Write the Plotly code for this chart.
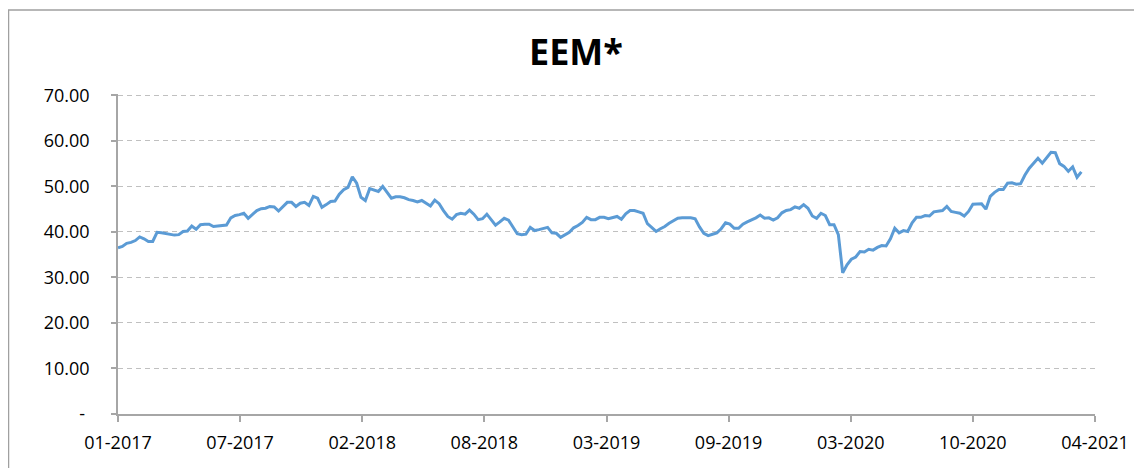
import pandas as pd
import plotly.graph_objects as go

# ---- data (weekly readings, first week starting 2017-01-03) ----
start_date = "2017-01-03"
eem_values = [
    36.5, 36.8, 37.5, 37.7, 38.1, 38.9, 38.5, 37.9, 37.9, 39.9,
    39.8, 39.6, 39.4, 39.3, 39.4, 40.1, 40.2, 41.3, 40.6, 41.6,
    41.7, 41.7, 41.2, 41.3, 41.5, 41.5, 43.1, 43.6, 43.8, 44.1,
    43.0, 43.9, 44.7, 45.1, 45.2, 45.6, 45.5, 44.6, 45.5, 46.5,
    46.5, 45.6, 46.3, 46.5, 45.8, 47.8, 47.4, 45.4, 46.0, 46.7,
    46.8, 48.3, 49.3, 49.8, 52.1, 50.7, 47.6, 46.9, 49.5, 49.2,
    48.9, 50.0, 48.8, 47.4, 47.7, 47.7, 47.5, 47.1, 46.9, 46.6,
    46.9, 46.3, 45.7, 47.0, 46.2, 44.7, 43.4, 42.8, 43.8, 44.1,
    43.9, 44.8, 43.9, 42.7, 42.9, 43.9, 42.8, 41.5, 42.2, 43.0,
    42.6, 41.0, 39.6, 39.4, 39.5, 41.0, 40.3, 40.5, 40.8, 41.0,
    39.8, 39.7, 38.8, 39.4, 39.9, 40.9, 41.4, 42.1, 43.2, 42.7,
    42.7, 43.2, 43.2, 42.9, 43.2, 43.4, 42.8, 44.0, 44.7, 44.7,
    44.4, 44.1, 41.8, 40.9, 40.1, 40.7, 41.2, 41.9, 42.4, 43.0,
    43.1, 43.1, 43.1, 42.9, 41.1, 39.7, 39.2, 39.5, 39.8, 40.7,
    42.0, 41.7, 40.8, 40.8, 41.7, 42.2, 42.6, 43.1, 43.7, 43.0,
    43.1, 42.6, 43.1, 44.2, 44.7, 44.9, 45.5, 45.2, 46.0, 45.2,
    43.5, 43.0, 44.1, 43.6, 41.6, 41.6, 39.4, 31.0, 32.8, 34.0,
    34.5, 35.7, 35.6, 36.2, 36.0, 36.6, 37.0, 36.9, 38.5, 40.8,
    39.8, 40.3, 40.1, 42.0, 43.2, 43.2, 43.6, 43.5, 44.4, 44.5,
    44.7, 45.6, 44.5, 44.3, 44.1, 43.5, 44.5, 46.1, 46.1, 46.2,
    45.0, 47.8, 48.7, 49.3, 49.3, 50.7, 50.8, 50.5, 50.6, 52.5,
    54.0, 55.2, 56.2, 55.1, 56.2, 57.5, 57.4, 55.0, 54.4, 53.3,
    54.3, 52.0, 53.2,
]
tick_dates = ["2017-01-03", "2017-07-19", "2018-02-01", "2018-08-17", "2019-03-02",
              "2019-09-15", "2020-03-30", "2020-10-13", "2021-04-28"]
tick_labels = ["01-2017", "07-2017", "02-2018", "08-2018", "03-2019",
               "09-2019", "03-2020", "10-2020", "04-2021"]
y_tickvals = [0, 10, 20, 30, 40, 50, 60, 70]
y_ticklabels = ["-\u00a0", "10.00", "20.00", "30.00", "40.00", "50.00", "60.00", "70.00"]
title_text = "EEM*"

dates = pd.date_range(start_date, periods=len(eem_values), freq="7D")

FONT = "Open Sans"
AXIS_COLOR = "#a6a6a6"

fig = go.Figure()
fig.add_trace(go.Scatter(
    x=dates, y=eem_values, mode="lines",
    line=dict(color="#5b9bd5", width=3),
    hoverinfo="x+y", showlegend=False,
))

fig.update_layout(
    width=1134, height=460,
    margin=dict(l=110, r=47, t=86, b=54, pad=0, autoexpand=False),
    paper_bgcolor="white", plot_bgcolor="white",
    font=dict(family=FONT, size=18, color="#000000"),
    xaxis=dict(
        type="date", range=[tick_dates[0], tick_dates[-1]], automargin=False,
        tickmode="array", tickvals=tick_dates, ticktext=tick_labels,
        showgrid=False, zeroline=False,
        showline=True, linecolor=AXIS_COLOR, linewidth=1.5,
        ticks="outside", ticklen=6, tickcolor=AXIS_COLOR, tickwidth=1.5,
        ticklabelstandoff=6,
        tickfont=dict(family=FONT, size=18, color="#000000"),
    ),
    yaxis=dict(
        range=[0, 70.3], automargin=False,
        tickmode="array", tickvals=y_tickvals, ticktext=y_ticklabels,
        showgrid=True, gridcolor="#c0c0c0", gridwidth=1, griddash="5px,4px",
        zeroline=False,
        showline=True, linecolor=AXIS_COLOR, linewidth=1.5,
        ticks="outside", ticklen=5, tickcolor=AXIS_COLOR, tickwidth=1.5,
        ticklabelstandoff=18,
        tickfont=dict(family=FONT, size=18, color="#000000"),
    ),
    annotations=[dict(text=f"<b>{title_text}</b>", xref="paper", yref="paper",
                      x=458 / 977, y=362 / 320, xanchor="center", yanchor="middle",
                      showarrow=False, font=dict(family=FONT, size=36, color="#000000"))],
    shapes=[dict(type="rect", xref="paper", yref="paper",
                 x0=-109.5 / 977, x1=1022 / 977, y0=-0.3, y1=404 / 320,
                 line=dict(color="#a0a0a0", width=1.5), fillcolor="rgba(0,0,0,0)",
                 layer="below")],
)

fig.write_html("out.html")
